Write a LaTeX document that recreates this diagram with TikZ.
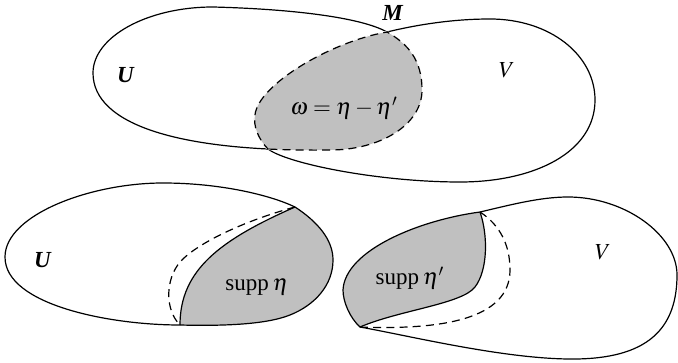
\documentclass[tikz,border=0pt]{standalone}
\usepackage{mathptmx}
\usepackage{fontspec}
\setmainfont{Liberation Serif}
\definecolor{greyfill}{RGB}{192,192,192}
\tikzset{
  outline/.style={line width=0.6pt},
  dashline/.style={line width=0.6pt, dash pattern=on 4pt off 2.6pt},
  eraser/.style={white, line width=1.1pt},
  lab/.style={font=\fontsize{11.5}{13}\selectfont, inner sep=0pt}
}
% top U
\newcommand\Ucurve{(213,7) .. controls (147,7) and (93,37) .. (93,73)
  .. controls (93,125) and (180,152) .. (330,150)
  .. controls (380,150) and (422,125) .. (422,90)
  .. controls (422,60) and (408,44) .. (387,32)
  .. controls (360,17) and (290,9) .. (213,7) -- cycle}
% top V
\newcommand\Vcurve{(387,32) .. controls (420,24) and (455,19) .. (490,19)
  .. controls (550,19) and (595,55) .. (595,100)
  .. controls (595,152) and (535,182) .. (460,182)
  .. controls (380,182) and (288,164) .. (268,149)
  .. controls (258,139) and (253,125) .. (255,115)
  .. controls (258,85) and (330,42) .. (387,32) -- cycle}
% bottom left outline
\newcommand\Lcurve{(295,207) .. controls (318,222) and (333,240) .. (333,260)
  .. controls (333,285) and (315,305) .. (290,315)
  .. controls (265,325) and (220,326) .. (180,325)
  .. controls (110,325) and (5,305) .. (5,257)
  .. controls (5,215) and (90,183) .. (163,183)
  .. controls (220,183) and (270,195) .. (295,207) -- cycle}
% bottom right outline
\newcommand\Rcurve{(480,212) .. controls (510,205) and (540,197) .. (568,197)
  .. controls (625,197) and (677,235) .. (677,275)
  .. controls (677,335) and (640,360) .. (568,359)
  .. controls (500,358) and (410,336) .. (360,327)
  .. controls (350,318) and (343,302) .. (343,290)
  .. controls (345,250) and (420,220) .. (480,212) -- cycle}
\begin{document}
\begin{tikzpicture}[x=0.5pt,y=-0.5pt]
\useasboundingbox (0,0) rectangle (678,363);
% ---- top: U and V in M
\draw[outline] \Ucurve;
\draw[outline] \Vcurve;
\begin{scope}\clip \Vcurve; \draw[eraser] \Ucurve; \end{scope}
\begin{scope}\clip \Ucurve; \draw[eraser] \Vcurve; \end{scope}
\begin{scope}\clip \Ucurve; \fill[greyfill] \Vcurve; \end{scope}
\begin{scope}\clip \Vcurve; \draw[dashline] \Ucurve; \end{scope}
\begin{scope}\clip \Ucurve; \draw[dashline] \Vcurve; \end{scope}
\node[lab] (lU) at (126,75) {\textbf{\textit{U}}};
\node[lab] (lM) at (393,13) {\textbf{\textit{M}}};
\node[lab] (lV) at (507,70) {$V$};
\node[lab] (lw) at (344,108) {$\omega=\eta-\eta'$};
% ---- bottom left: supp eta
\coordinate (A) at (295,207);
\coordinate (B) at (180,325);
\begin{scope}
  \clip \Lcurve;
  \fill[greyfill] (A) .. controls (220,240) and (180,270) .. (B) -- (180,345) -- (345,345) -- (345,180) -- (295,180) -- cycle;
\end{scope}
\draw[outline] \Lcurve;
\draw[outline] (A) .. controls (220,240) and (180,270) .. (B);
\draw[dashline] (A) .. controls (240,222) and (195,245) .. (180,262)
  .. controls (165,280) and (165,310) .. (B);
\node[lab] (lU2) at (43,260) {\textbf{\textit{U}}};
\node[lab] (ls) at (257,287) {supp\,$\eta$};
% ---- bottom right: supp eta'
\coordinate (C) at (480,212);
\coordinate (D) at (360,327);
\begin{scope}
  \clip \Rcurve;
  \fill[greyfill] (C) .. controls (488,235) and (488,270) .. (475,287)
    .. controls (462,304) and (400,310) .. (D) -- (360,363) -- (330,363) -- (330,190) -- (480,190) -- cycle;
\end{scope}
\draw[outline] \Rcurve;
\draw[outline] (C) .. controls (488,235) and (488,270) .. (475,287)
    .. controls (462,304) and (400,310) .. (D);
\draw[dashline] (C) .. controls (500,225) and (510,245) .. (510,270)
  .. controls (510,320) and (440,330) .. (D);
\node[lab] (lV2) at (603,252) {$V$};
\node[lab] (ls2) at (410,278) {supp\,$\eta'$};
\end{tikzpicture}
\end{document}
